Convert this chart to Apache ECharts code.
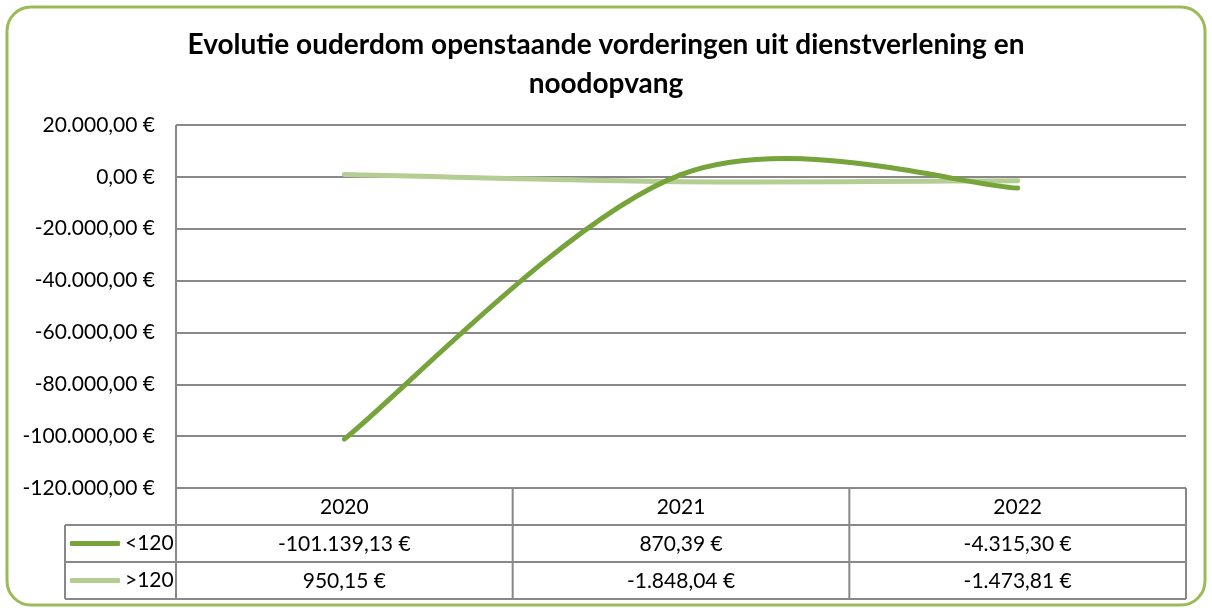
<!DOCTYPE html>
<html>
<head>
<meta charset="utf-8">
<script src="https://cdn.jsdelivr.net/npm/echarts@6/dist/echarts.min.js"></script>
<style>
  html, body { margin: 0; padding: 0; background: #fff; }
  #chart { width: 1212px; height: 608px; }
</style>
</head>
<body>
<div id="chart"></div>
<script>
// data
var categories = ['2020', '2021', '2022'];
var seriesNames = ['<120', '>120'];
var under120 = [-101139.13, 870.39, -4315.30];
var over120 = [950.15, -1848.04, -1473.81];
var yMin = -120000, yMax = 20000, yStep = 20000;

var seriesValues = [under120, over120];
var colors = ['#77a33b', '#b3cd93'];
var font = 'Lato, "Open Sans", sans-serif';

// layout of the plot + data table under it
var G = { left: 176, right: 26, top: 125, bottom: 120 };
var W = 1212, H = 608;
var plotBottom = H - G.bottom;   // 488
var rowH = 37;
var legendLeft = 65;

// 1.234,56 € style
var euro = function(v) {
  var neg = v < 0;
  var s = Math.abs(v).toFixed(2).split('.');
  var intPart = s[0].replace(/\B(?=(\d{3})+(?!\d))/g, '.');
  return (neg ? '-' : '') + intPart + ',' + s[1] + ' €';
};

var tableAxis = function(offset, values) {
  return {
    type: 'category',
    data: categories,
    position: 'bottom',
    offset: offset,
    axisLine: { show: false },
    axisTick: { show: false },
    axisLabel: {
      margin: 7,
      color: '#000',
      fontFamily: font,
      fontSize: 21,
      lineHeight: 24,
      formatter: function(v, i) { return values ? euro(values[i]) : v; }
    }
  };
};

// Excel-like smooth line: catmull-rom segment from point i to i+1
var renderSmooth = function(params, api) {
  var vals = seriesValues[params.seriesIndex];
  var n = vals.length;
  var i = params.dataIndex;
  if (i >= n - 1) return null;
  var p = function(k) {
    k = Math.max(0, Math.min(n - 1, k));
    return api.coord([k, vals[k]]);
  };
  var p0 = p(i - 1), p1 = p(i), p2 = p(i + 1), p3 = p(i + 2);
  return {
    type: 'bezierCurve',
    shape: {
      x1: p1[0], y1: p1[1],
      cpx1: p1[0] + (p2[0] - p0[0]) / 6, cpy1: p1[1] + (p2[1] - p0[1]) / 6,
      cpx2: p2[0] - (p3[0] - p1[0]) / 6, cpy2: p2[1] - (p3[1] - p1[1]) / 6,
      x2: p2[0], y2: p2[1]
    },
    style: { stroke: colors[params.seriesIndex], lineWidth: 5, fill: null, lineCap: 'round' }
  };
};

var gl = function(x1, y1, x2, y2) {
  return {
    type: 'line',
    shape: { x1: x1, y1: y1, x2: x2, y2: y2 },
    style: { stroke: '#888', lineWidth: 2 },
    silent: true
  };
};

var right = W - G.right;
var colW = (right - G.left) / categories.length;
var tableBottom = plotBottom + rowH * 3;
var lines = [
  gl(legendLeft, plotBottom + rowH, right, plotBottom + rowH),
  gl(legendLeft, plotBottom + rowH * 2, right, plotBottom + rowH * 2),
  gl(legendLeft, tableBottom, right, tableBottom),
  gl(legendLeft, plotBottom + rowH, legendLeft, tableBottom)
];
for (var c = 0; c <= categories.length; c++) {
  var x = G.left + colW * c;
  lines.push(gl(x, c === 0 ? G.top : plotBottom, x, tableBottom));
}

var makeSeries = function(k) {
  return {
    name: seriesNames[k],
    type: 'custom',
    renderItem: renderSmooth,
    data: seriesValues[k].map(function(v, i) { return [i, v]; }),
    encode: { x: 0, y: 1 },
    itemStyle: { color: colors[k] },
    z: 3 - k
  };
};

var chart = echarts.init(document.getElementById('chart'));
chart.setOption({
  backgroundColor: '#fff',
  animation: false,
  title: {
    text: 'Evolutie ouderdom openstaande vorderingen uit dienstverlening en\nnoodopvang',
    left: 'center',
    top: 20,
    textStyle: { fontFamily: font, fontWeight: 'bold', fontSize: 28, lineHeight: 39, color: '#000' }
  },
  legend: {
    orient: 'vertical',
    left: legendLeft,
    top: plotBottom + rowH + (rowH - 24) / 2 - 5,
    itemWidth: 50,
    itemHeight: 5,
    itemGap: rowH - 24,
    textStyle: { fontFamily: font, fontSize: 21, lineHeight: 24, color: '#000' },
    data: seriesNames.map(function(s) { return { name: s, icon: 'roundRect' }; })
  },
  grid: { left: G.left, right: G.right, top: G.top, bottom: G.bottom },
  xAxis: [
    tableAxis(0, null),
    tableAxis(rowH, under120),
    tableAxis(rowH * 2, over120)
  ],
  yAxis: {
    type: 'value',
    min: yMin,
    max: yMax,
    interval: yStep,
    axisLine: { show: false },
    axisTick: { show: false },
    splitLine: { lineStyle: { color: '#888', width: 2 } },
    axisLabel: {
      margin: 21,
      color: '#000',
      fontFamily: font,
      fontSize: 21,
      formatter: function(v) { return euro(v); }
    }
  },
  series: [makeSeries(0), makeSeries(1)],
  graphic: lines.concat([{
    type: 'rect',
    shape: { x: 7, y: 7, width: W - 14, height: H - 10, r: 24 },
    style: { fill: null, stroke: '#9bbb59', lineWidth: 3 },
    silent: true,
    z: -1
  }])
});
</script>
</body>
</html>
